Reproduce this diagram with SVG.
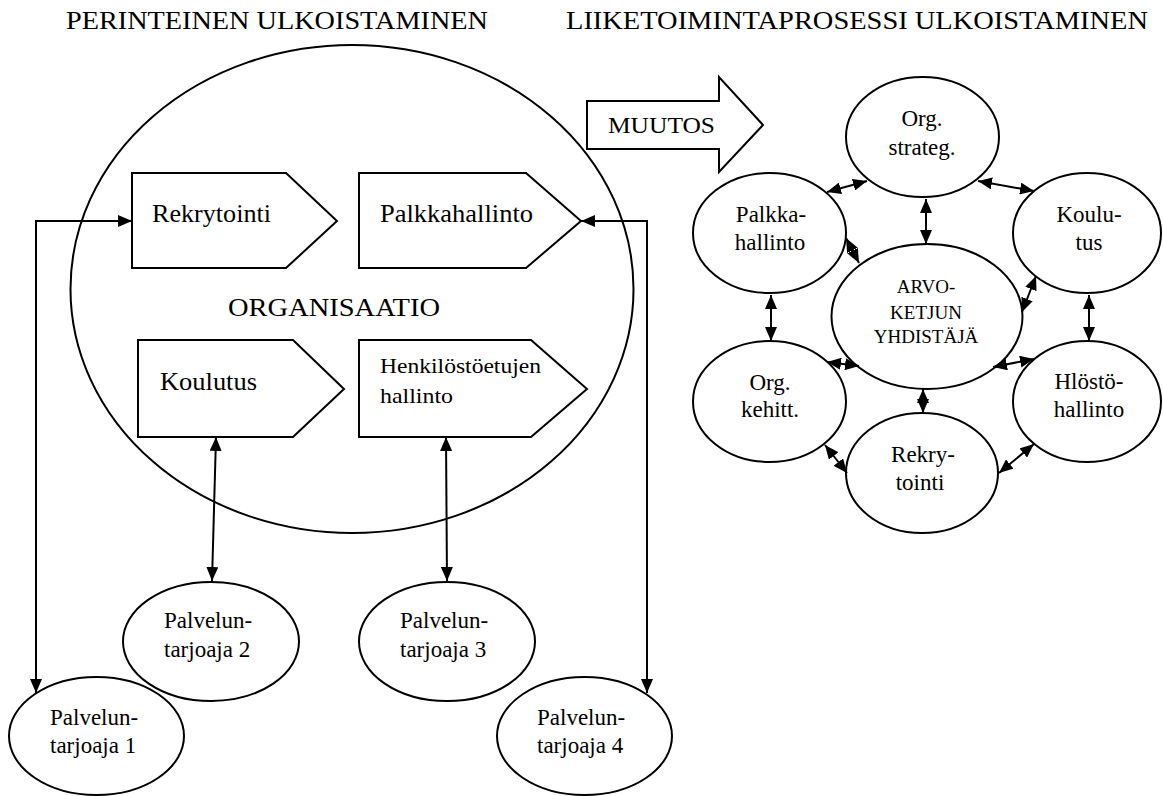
<svg xmlns="http://www.w3.org/2000/svg" width="1163" height="796" viewBox="0 0 1163 796">
  <defs>
    <marker id="ah" viewBox="0 0 14 12" refX="14" refY="6" markerWidth="14" markerHeight="12" markerUnits="userSpaceOnUse" orient="auto-start-reverse">
      <path d="M0,0 L14,6 L0,12 z" fill="#000"/>
    </marker>
  </defs>
  <style>
    .shape { fill: #fff; stroke: #000; stroke-width: 2; }
    .big { fill: none; stroke: #000; stroke-width: 2; }
    .conn { fill: none; stroke: #000; stroke-width: 2; marker-start: url(#ah); marker-end: url(#ah); }
    text { font-family: "Liberation Serif", "Times New Roman", serif; fill: #000; }
    .hdr { font-size: 26px; }
    .lbl { font-size: 25px; }
    .sm { font-size: 23px; }
    .hk { font-size: 21px; }
    .cap { font-size: 19px; }
    .mid { text-anchor: middle; }
  </style>

  <rect width="1163" height="796" fill="#fff"/>

  <!-- headings -->
  <g id="headings">
    <text class="hdr" x="66" y="29" textLength="422" lengthAdjust="spacingAndGlyphs">PERINTEINEN ULKOISTAMINEN</text>
    <text class="hdr" x="566" y="29" textLength="582" lengthAdjust="spacingAndGlyphs">LIIKETOIMINTAPROSESSI ULKOISTAMINEN</text>
  </g>

  <!-- organisation boundary -->
  <g id="organisaatio">
    <ellipse class="big" cx="352" cy="289" rx="281.5" ry="244"/>
    <text class="lbl" x="228" y="316" textLength="212" lengthAdjust="spacingAndGlyphs">ORGANISAATIO</text>
  </g>

  <!-- service providers -->
  <g id="palveluntarjoaja2">
    <ellipse class="shape" cx="211" cy="641.5" rx="88" ry="59.5"/>
    <text class="sm" x="164" y="628">Palvelun-</text>
    <text class="sm" x="164" y="657">tarjoaja 2</text>
  </g>
  <g id="palveluntarjoaja1">
    <ellipse class="shape" cx="96.5" cy="736" rx="87.5" ry="59"/>
    <text class="sm" x="50" y="725">Palvelun-</text>
    <text class="sm" x="50" y="753">tarjoaja 1</text>
  </g>
  <g id="palveluntarjoaja3">
    <ellipse class="shape" cx="447" cy="641.5" rx="88" ry="59.5"/>
    <text class="sm" x="400" y="628">Palvelun-</text>
    <text class="sm" x="400" y="657">tarjoaja 3</text>
  </g>
  <g id="palveluntarjoaja4">
    <ellipse class="shape" cx="584.5" cy="736" rx="87.5" ry="59"/>
    <text class="sm" x="537" y="725">Palvelun-</text>
    <text class="sm" x="537" y="753">tarjoaja 4</text>
  </g>

  <!-- functions inside the organisation -->
  <g id="rekrytointi">
    <polygon class="shape" points="132,173 286,173 337,221 286,268 132,268"/>
    <text class="lbl" x="152" y="222" textLength="119" lengthAdjust="spacingAndGlyphs">Rekrytointi</text>
  </g>
  <g id="palkkahallinto">
    <polygon class="shape" points="359,173 526,173 581,221 526,268 359,268"/>
    <text class="lbl" x="380" y="222" textLength="153" lengthAdjust="spacingAndGlyphs">Palkkahallinto</text>
  </g>
  <g id="koulutus">
    <polygon class="shape" points="138,340 293,340 344,389 293,437 138,437"/>
    <text class="lbl" x="160" y="390" textLength="97" lengthAdjust="spacingAndGlyphs">Koulutus</text>
  </g>
  <g id="henkilostoetujen-hallinto">
    <polygon class="shape" points="359,340 531,340 587,389 531,437 359,437"/>
    <text class="hk" x="380" y="373" textLength="161" lengthAdjust="spacingAndGlyphs">Henkilöstöetujen</text>
    <text class="hk" x="380" y="403" textLength="73" lengthAdjust="spacingAndGlyphs">hallinto</text>
  </g>

  <!-- change arrow -->
  <g id="muutos">
    <polygon class="shape" points="587,101 719,101 719,77 763,125 719,172 719,149 587,149"/>
    <text class="sm" x="608" y="133" textLength="107" lengthAdjust="spacingAndGlyphs">MUUTOS</text>
  </g>

  <!-- process network -->
  <g id="org-strateg">
    <ellipse class="shape" cx="922.5" cy="137" rx="76.5" ry="60"/>
    <text class="sm mid" x="922" y="126">Org.</text>
    <text class="sm mid" x="922" y="155">strateg.</text>
  </g>
  <g id="palkka-hallinto">
    <ellipse class="shape" cx="769.5" cy="233" rx="76.5" ry="60"/>
    <text class="sm mid" x="771" y="222">Palkka-</text>
    <text class="sm mid" x="770" y="250">hallinto</text>
  </g>
  <g id="koulu-tus">
    <ellipse class="shape" cx="1087" cy="233" rx="74" ry="60"/>
    <text class="sm mid" x="1089" y="222">Koulu-</text>
    <text class="sm mid" x="1089" y="250">tus</text>
  </g>
  <g id="arvoketjun-yhdistaja">
    <ellipse class="shape" cx="927" cy="316.5" rx="95.5" ry="72.5"/>
    <text class="cap mid" x="926" y="293">ARVO-</text>
    <text class="cap mid" x="926" y="319">KETJUN</text>
    <text class="cap mid" x="926" y="343">YHDISTÄJÄ</text>
  </g>
  <g id="org-kehitt">
    <ellipse class="shape" cx="769.5" cy="401.5" rx="76.5" ry="60.5"/>
    <text class="sm mid" x="770" y="390">Org.</text>
    <text class="sm mid" x="770" y="417">kehitt.</text>
  </g>
  <g id="hlosto-hallinto">
    <ellipse class="shape" cx="1087" cy="401.5" rx="74" ry="60.5"/>
    <text class="sm mid" x="1089" y="389">Hlöstö-</text>
    <text class="sm mid" x="1089" y="417">hallinto</text>
  </g>
  <g id="rekry-tointi">
    <ellipse class="shape" cx="922" cy="473" rx="76" ry="60"/>
    <text class="sm mid" x="923" y="462">Rekry-</text>
    <text class="sm mid" x="920" y="490">tointi</text>
  </g>

  <!-- connectors -->
  <g id="connectors">
    <path class="conn" d="M36,693 L36,221 L132,221"/>
    <path class="conn" d="M647,693 L647,221 L581,221"/>
    <path class="conn" d="M216,437 L212,581"/>
    <path class="conn" d="M446,437 L447,581"/>

    <path class="conn" d="M827,192 L867,181"/>
    <path class="conn" d="M978,181 L1034,191"/>
    <path class="conn" d="M926,199 L926,244"/>
    <path class="conn" d="M846,238 L859,263"/>
    <path class="conn" d="M1022,312 L1036,276"/>
    <path class="conn" d="M771,295 L771,341"/>
    <path class="conn" d="M1089,295 L1089,341"/>
    <path class="conn" d="M827,362 L859,366"/>
    <path class="conn" d="M993,367 L1034,359"/>
    <path class="conn" d="M923,389 L923,413"/>
    <path class="conn" d="M825,445 L847,473"/>
    <path class="conn" d="M999,473 L1034,444"/>
  </g>
</svg>
